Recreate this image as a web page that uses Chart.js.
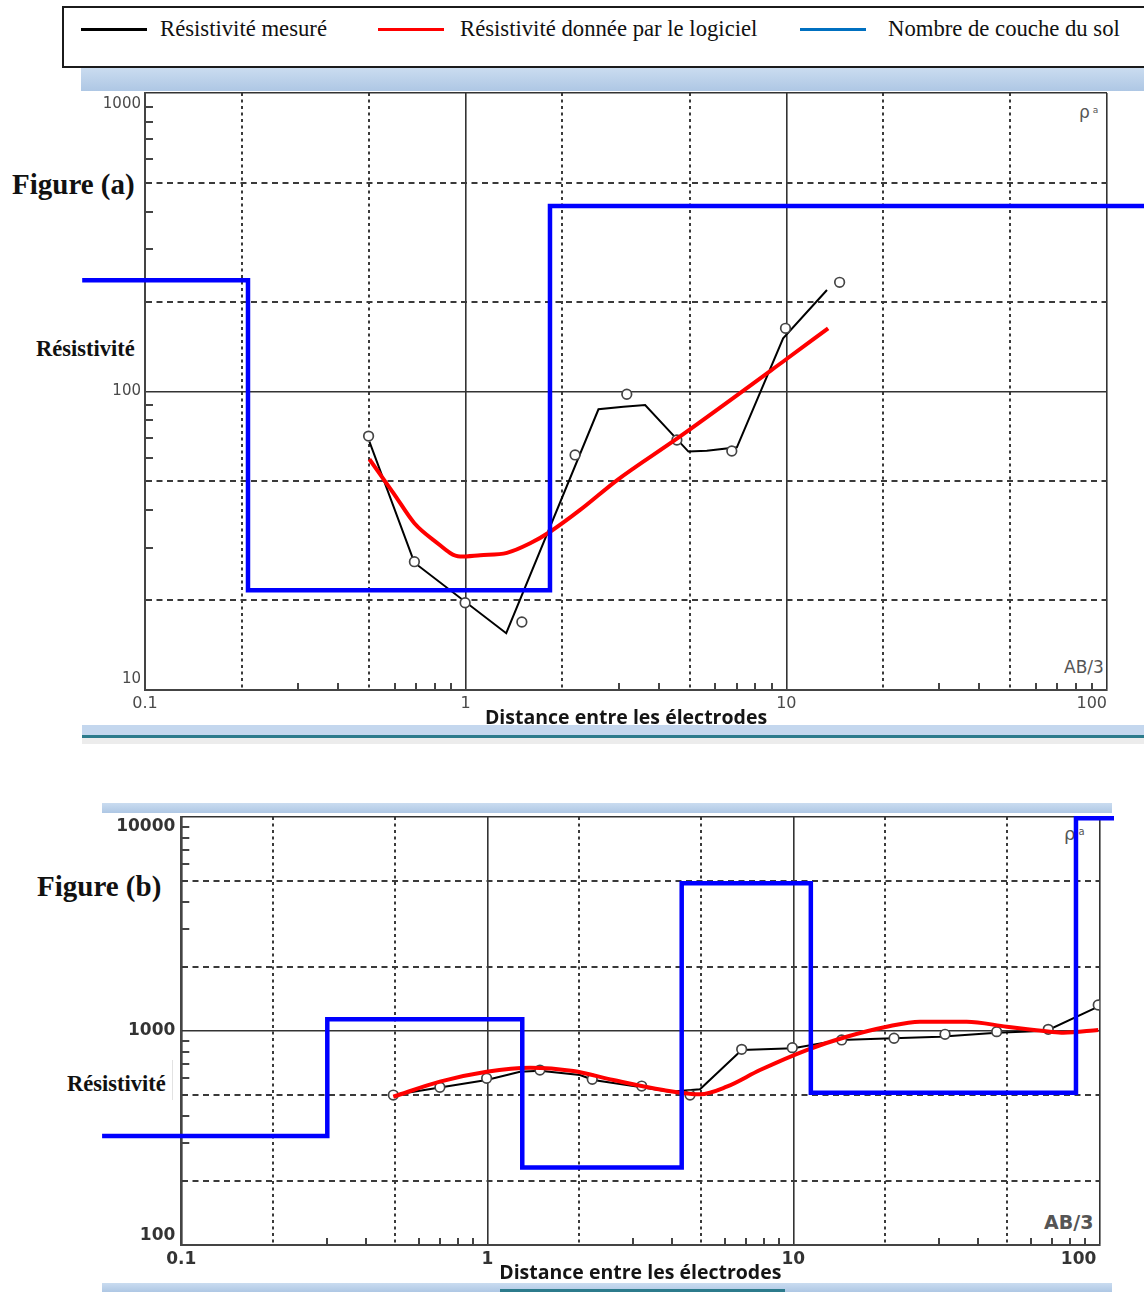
<!DOCTYPE html>
<html lang="fr">
<head>
<meta charset="utf-8">
<title>Sondages électriques – courbes de résistivité apparente</title>
<script src="https://cdn.jsdelivr.net/npm/chart.js@4.4.1/dist/chart.umd.min.js"></script>
<style>
  html, body { margin: 0; padding: 0; background: #fff; }
  #page { position: relative; width: 1144px; height: 1292px; overflow: hidden; background: #fff; }
  .abs { position: absolute; white-space: nowrap; }
  .band { position: absolute; background: linear-gradient(#cadcf0, #aec7e4); }
  .serif { font-family: 'Liberation Serif', 'Times New Roman', serif; color: #111; }
  .note { font-family: 'DejaVu Sans', sans-serif; color: #555; }
  canvas { position: absolute; left: 0; }
</style>
</head>
<body>
<div id="page">
  <!-- legend frame (its right edge runs past the page) -->
  <div id="legend" class="abs" style="left:62px; top:6px; width:1120px; height:62px; box-sizing:border-box; border:2px solid #1b1b1b;"></div>
  <div class="band" style="left:81px; top:68px; width:1063px; height:23px;"></div>

  <!-- sounding (a) -->
  <div class="abs serif" style="left:12px; top:170px; font-size:29px; line-height:29px; font-weight:bold;">Figure (a)</div>
  <div class="abs serif" style="left:36px; top:338px; font-size:22.5px; line-height:22.5px; font-weight:bold;">Résistivité</div>
  <div class="abs note" style="left:1079px; top:102px; font-size:17px; line-height:17px;">ρ<span style="font-size:9px; vertical-align:5px;"> a</span></div>
  <div class="abs note" style="left:1064px; top:657px; font-size:17px; line-height:20px;">AB/3</div>
  <div class="abs" style="left:82px; top:725px; width:1062px; height:10px; background:#c4d7ee;"></div>
  <div class="abs" style="left:82px; top:735px; width:1062px; height:3px; background:#2c7b8c;"></div>
  <div class="abs" style="left:82px; top:738px; width:1062px; height:6px; background:#ececec;"></div>
  <canvas id="chartA" width="1144" height="670" style="top:80px;"></canvas>

  <!-- sounding (b) -->
  <div class="band" style="left:102px; top:803px; width:1010px; height:10px;"></div>
  <div class="abs serif" style="left:37px; top:872px; font-size:29px; line-height:29px; font-weight:bold;">Figure (b)</div>
  <div class="abs serif" style="left:67px; top:1073px; font-size:22.5px; line-height:22.5px; font-weight:bold;">Résistivité</div>
  <div class="abs" style="left:172px; top:1060px; width:1px; height:40px; background:#e2e2e2;"></div>
  <div class="abs note" style="left:1064px; top:823px; font-size:18px; line-height:18px;">ρ<span style="font-size:10px; vertical-align:5px;"> a</span></div>
  <div class="abs note" style="left:1044px; top:1211px; font-size:19px; line-height:22px; font-weight:bold;">AB/3</div>
  <div class="band" style="left:102px; top:1283px; width:1010px; height:9px;"></div>
  <div class="abs" style="left:500px; top:1289px; width:285px; height:3px; background:#2c7b8c;"></div>
  <canvas id="chartB" width="1144" height="492" style="top:800px;"></canvas>
</div>

<script>
// ---------- legend ----------
const legendLabels = ['Résistivité mesuré', 'Résistivité donnée par le logiciel', 'Nombre de couche du sol'];
const legendColors = ['#000000', '#ff0000', '#0070c0'];

// ---------- axes ----------
const xTitle = 'Distance entre les électrodes';
const xRange = [0.1, 100];          // AB/3 (m), both soundings
const yRangeA = [10, 1000];         // ohm.m, sounding (a)
const yRangeB = [100, 10000];       // ohm.m, sounding (b)
const logSteps = [1, 2, 3, 4, 5, 6, 7, 8, 9];

// ---------- sounding (a) ----------
// measured points (circles)
const abMesA  = [0.498, 0.692, 0.996, 1.497, 2.194, 3.18, 4.557, 6.76, 9.94, 14.66];
const rhoMesA = [70.9, 26.9, 19.6, 16.9, 61.3, 97.9, 68.8, 63.2, 162.8, 232.2];
// measured curve
const abCurveA  = [0.501, 0.692, 1.338, 2.595, 3.105, 3.628, 4.951, 5.651, 7.011, 9.772, 13.39];
const rhoCurveA = [67.9, 26.7, 15.5, 87.2, 88.9, 90.1, 62.9, 63.3, 65.0, 150.8, 218.8];
// computed (model) curve
const abFitA  = [0.501, 0.596, 0.692, 0.794, 0.961, 1.11, 1.345, 1.589, 1.834, 2.275, 2.969, 4.557, 9.92, 13.5];
const rhoFitA = [59.3, 45.6, 36.2, 31.8, 28.0, 28.3, 28.8, 31.0, 33.9, 40.1, 50.5, 69.5, 127.5, 162.8];
// layered model (step)
const abLayA  = [0.0637, 0.2095, 0.2095, 1.832, 1.832, 135];
const rhoLayA = [236, 236, 21.6, 21.6, 418, 418];

// ---------- sounding (b) ----------
const abMesB  = [0.493, 0.700, 0.995, 1.486, 2.203, 3.196, 4.597, 6.781, 9.924, 14.39, 21.34, 31.32, 46.2, 68.1, 99.2];
const rhoMesB = [502, 546, 601, 657, 595, 553, 502, 821, 836, 908, 925, 965, 993, 1018, 1323];
const abCurveB  = [0.493, 0.700, 0.995, 1.279, 1.486, 2.009, 2.220, 3.196, 3.954, 4.956, 6.781, 10.0, 14.21, 21.23, 30.16, 46.2, 67.3, 99.2];
const rhoCurveB = [502, 544, 590, 645, 652, 623, 590, 546, 520, 534, 815, 830, 908, 925, 941, 982, 1003, 1299];
const abFitB  = [0.493, 0.700, 0.995, 1.379, 1.91, 2.581, 3.760, 4.956, 6.058, 7.784, 11.06, 14.94, 20.2, 25.94, 36.87, 49.8, 69.0, 76.3, 99.2];
const rhoFitB = [493, 580, 645, 674, 650, 590, 530, 506, 549, 657, 815, 940, 1047, 1105, 1105, 1047, 992, 982, 1011];
const abLayB  = [0.0551, 0.300, 0.300, 1.301, 1.301, 4.318, 4.318, 11.41, 11.41, 83.9, 83.9, 111.7];
const rhoLayB = [323, 323, 1134, 1134, 230, 230, 4900, 4900, 515, 515, 9860, 9860];

// ---------- legend drawing ----------
const legendSwatchX = [81, 378, 800];
const legendTextX = [160, 460, 888];
const page = document.getElementById('page');
legendLabels.forEach((lab, i) => {
  const sw = document.createElement('div');
  sw.className = 'abs';
  sw.style.cssText = `left:${legendSwatchX[i]}px; top:28px; width:66px; height:3px; background:${legendColors[i]};`;
  page.appendChild(sw);
  const tx = document.createElement('div');
  tx.className = 'abs serif';
  tx.style.cssText = `left:${legendTextX[i]}px; top:16.5px; font-size:22.7px; line-height:23px;`;
  tx.textContent = lab;
  page.appendChild(tx);
});

// ---------- helpers ----------
const pts = (xs, ys) => xs.map((x, i) => ({ x, y: ys[i] }));
const mant = v => { const e = Math.floor(Math.log10(v) + 1e-9); return Math.round(v / Math.pow(10, e)); };
const fmt = v => (v < 1 ? v.toFixed(1) : String(Math.round(v)));
const sameValue = (a, b) => Math.abs(Math.log10(a / b)) < 1e-6;
function logTicks(min, max) {
  const out = [];
  for (let e = Math.round(Math.log10(min)); Math.pow(10, e) <= max * 1.0001; e++) {
    for (const k of logSteps) {
      const v = +(k * Math.pow(10, e)).toPrecision(6);
      if (v <= max * 1.0001) out.push(v);
    }
  }
  return out;
}
const gridColor = c => {
  if (!c.tick) return '#444';
  const m = mant(c.tick.value);
  if (m === 1) return '#333333';
  if (m === 2 || m === 5) return '#3a3a3a';
  return 'rgba(0,0,0,0)';
};
const gridWidth = c => (c.tick && mant(c.tick.value) === 1 ? 1.6 : 2);
const gridDash = pattern => c => (c.tick && [2, 5].includes(mant(c.tick.value)) ? pattern : []);

// short inward marks at the intermediate log values
const minorMarks = {
  id: 'minorMarks',
  beforeDatasetsDraw(chart) {
    const { ctx, chartArea: a, scales: { x, y } } = chart;
    ctx.save();
    ctx.strokeStyle = '#444';
    ctx.lineWidth = 2;
    ctx.beginPath();
    x.ticks.forEach(t => {
      if ([1, 2, 5].includes(mant(t.value))) return;
      const px = Math.round(x.getPixelForValue(t.value));
      ctx.moveTo(px, a.bottom); ctx.lineTo(px, a.bottom - 7);
    });
    y.ticks.forEach(t => {
      if ([1, 2, 5].includes(mant(t.value))) return;
      const py = Math.round(y.getPixelForValue(t.value));
      ctx.moveTo(a.left, py); ctx.lineTo(a.left + 8, py);
    });
    ctx.stroke();
    ctx.restore();
  }
};

Chart.defaults.font.family = "'DejaVu Sans', sans-serif";

function buildChart(id, s) {
  const datasets = [
    { label: legendLabels[2], data: pts(s.abLay, s.rhoLay), borderColor: '#0000ff', borderWidth: 4.5,
      pointRadius: 0, clip: false, borderJoinStyle: 'miter', borderCapStyle: 'butt' },
    { label: legendLabels[1], data: pts(s.abFit, s.rhoFit), borderColor: '#ff0000', borderWidth: 4,
      pointRadius: 0, cubicInterpolationMode: 'monotone' },
    { label: legendLabels[0] + ' (points)', data: pts(s.abMes, s.rhoMes), showLine: false,
      pointRadius: 4.8, pointBackgroundColor: '#ffffff', pointBorderColor: '#444444', pointBorderWidth: 1.7 },
    { label: legendLabels[0], data: pts(s.abCurve, s.rhoCurve), borderColor: '#000000', borderWidth: 2,
      pointRadius: 0 }
  ];
  return new Chart(document.getElementById(id), {
    type: 'line',
    data: { datasets },
    plugins: [minorMarks],
    options: {
      responsive: false,
      animation: false,
      events: [],
      layout: { autoPadding: false, padding: { left: 0, top: s.padTop, right: s.padRight, bottom: 0 } },
      plugins: { legend: { display: false }, tooltip: { enabled: false } },
      scales: {
        x: {
          type: 'logarithmic', min: xRange[0], max: xRange[1],
          afterBuildTicks: sc => { sc.ticks = logTicks(xRange[0], xRange[1]).map(v => ({ value: v })); },
          afterFit: sc => { sc.height = s.xAxisH; sc.paddingLeft = 0; sc.paddingRight = 0; },
          grid: { color: gridColor, lineWidth: gridWidth, drawTicks: false },
          border: { display: true, color: '#444', width: 2, dash: gridDash([3, 3.5]) },
          ticks: {
            autoSkip: false, maxRotation: 0, padding: 4, color: s.tickColor, font: s.xTickFont,
            // the last label is pulled inside the frame by trailing blanks
            callback: function (v) {
              if (mant(v) !== 1) return '';
              return sameValue(v, this.max) ? fmt(v) + '\u00a0'.repeat(s.lastPad) : fmt(v);
            }
          },
          title: { display: true, text: xTitle, color: '#151515',
                   font: { family: "'Open Sans', sans-serif", size: 19.5, weight: 'bold' },
                   padding: { top: 0, bottom: s.titlePad } }
        },
        y: {
          type: 'logarithmic', min: s.yRange[0], max: s.yRange[1],
          afterBuildTicks: sc => { sc.ticks = logTicks(s.yRange[0], s.yRange[1]).map(v => ({ value: v })); },
          afterFit: sc => { sc.width = s.plotLeft; sc.paddingTop = 0; sc.paddingBottom = 0; },
          grid: { color: gridColor, lineWidth: gridWidth, drawTicks: false },
          border: { display: true, color: '#444', width: 2, dash: gridDash([6, 4.5]) },
          ticks: {
            autoSkip: false, padding: s.yTickPad, color: s.tickColor, font: s.yTickFont,
            // end labels sit just inside the frame
            callback: function (v) {
              if (mant(v) !== 1) return '';
              const t = fmt(v);
              if (sameValue(v, this.max)) return ['', t];
              if (sameValue(v, this.min)) return [t, ''];
              return t;
            }
          }
        }
      }
    }
  });
}

buildChart('chartA', {
  abMes: abMesA, rhoMes: rhoMesA, abCurve: abCurveA, rhoCurve: rhoCurveA,
  abFit: abFitA, rhoFit: rhoFitA, abLay: abLayA, rhoLay: rhoLayA,
  yRange: yRangeA, padTop: 13, padRight: 37, plotLeft: 145, xAxisH: 60, titlePad: 20,
  tickColor: '#4a4a4a', yTickPad: 4, lastPad: 6,
  xTickFont: { size: 16 }, yTickFont: { size: 15, lineHeight: 1.45 }
});

buildChart('chartB', {
  abMes: abMesB, rhoMes: rhoMesB, abCurve: abCurveB, rhoCurve: rhoCurveB,
  abFit: abFitB, rhoFit: rhoFitB, abLay: abLayB, rhoLay: rhoLayB,
  yRange: yRangeB, padTop: 17, padRight: 44.7, plotLeft: 181.3, xAxisH: 47, titlePad: 7,
  tickColor: '#333333', yTickPad: 6, lastPad: 7,
  xTickFont: { size: 17, weight: 'bold' }, yTickFont: { size: 17, weight: 'bold', lineHeight: 1.1 }
});
</script>
</body>
</html>
